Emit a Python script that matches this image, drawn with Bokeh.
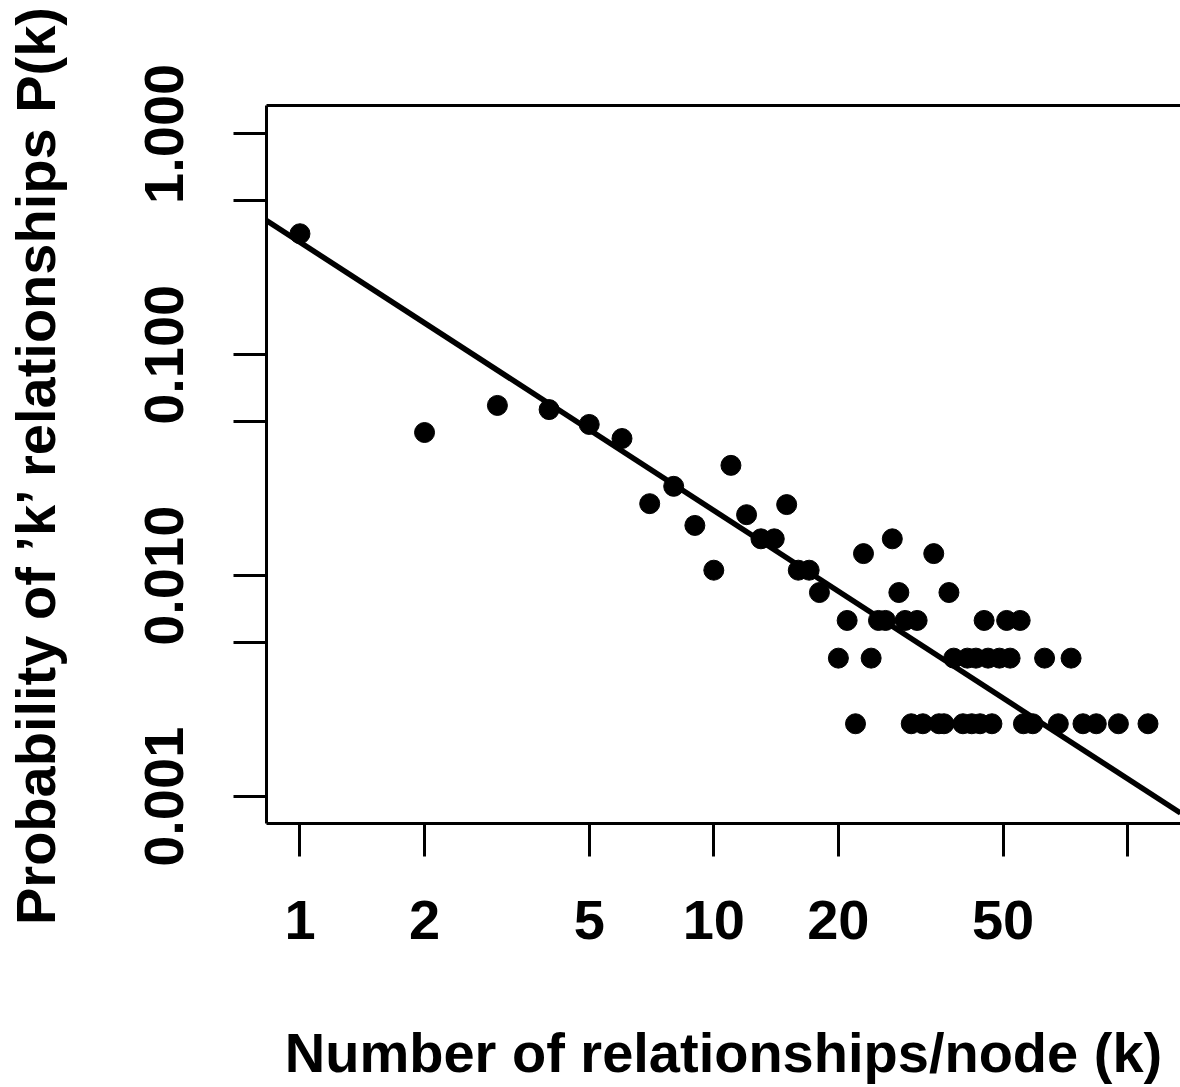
import math
from bokeh.plotting import figure
from bokeh.models import LogAxis, FixedTicker, Range1d
from bokeh.embed import file_html
from bokeh.resources import INLINE

# ---- data (degree k, probability P(k)) ----
degree_k = [1, 2, 3, 4, 5, 6, 7, 8, 9, 10, 11, 12, 13, 14, 15, 16, 17, 18,
            20, 21, 22, 23, 24, 25, 26, 27, 28, 29, 30, 31, 32, 34, 35, 36,
            37, 38, 40, 41, 42, 43, 44, 45, 46, 47, 49, 51, 52, 55, 56, 59,
            63, 68, 73, 78, 84, 95, 112]
prob_k = [0.353, 0.0445, 0.0590, 0.0565, 0.0484, 0.0418, 0.0212, 0.0254,
          0.0169, 0.0106, 0.0316, 0.0189, 0.0147, 0.0147, 0.0210, 0.0106,
          0.0106, 0.0084,
          0.00424, 0.00628, 0.00214, 0.0126, 0.00424, 0.00628, 0.00628,
          0.0147, 0.0084, 0.00628, 0.00214, 0.00628, 0.00214, 0.0126,
          0.00214, 0.00214,
          0.0084, 0.00424, 0.00214, 0.00424, 0.00214, 0.00424, 0.00214,
          0.00628, 0.00424, 0.00214, 0.00424, 0.00628, 0.00424, 0.00628,
          0.00214, 0.00214,
          0.00424, 0.00214, 0.00424, 0.00214, 0.00214, 0.00214, 0.00214]

# power-law fit line P(k) = fit_coef * k ** fit_exponent
fit_coef = 0.3232
fit_exponent = -1.214

x_ticks = [1, 2, 5, 10, 20, 50, 100]
x_tick_labels = ["1", "2", "5", "10", "20", "50", ""]
y_ticks = [0.001, 0.005, 0.01, 0.05, 0.1, 0.5, 1]
y_tick_labels = ["0.001", "", "0.010", "", "0.100", "", "1.000"]

x_title = "Number of relationships/node (k)"
y_title = "Probability of \u2019k\u2019 relationships P(k)"

x_lim = (0.8301, 134.2)
y_lim = (0.000757, 1.343)

FONT = "Liberation Sans"
FSIZE = "56px"

p = figure(x_axis_type="log", y_axis_type="log",
           x_range=Range1d(*x_lim), y_range=Range1d(*y_lim),
           frame_width=914, frame_height=718,
           min_border_left=266, min_border_top=105,
           min_border_right=0, min_border_bottom=0,
           output_backend="svg", toolbar_location=None)
p.outline_line_color = None
p.xgrid.visible = False
p.ygrid.visible = False
p.background_fill_color = "white"
p.border_fill_color = "white"

for ax, ticks, labels in ((p.xaxis[0], x_ticks, x_tick_labels),
                          (p.yaxis[0], y_ticks, y_tick_labels)):
    ax.ticker = FixedTicker(ticks=ticks, minor_ticks=[])
    ax.major_label_overrides = {t: l for t, l in zip(ticks, labels)}
    ax.axis_line_width = 3
    ax.axis_line_color = "black"
    ax.major_tick_line_width = 3
    ax.major_tick_line_color = "black"
    ax.major_tick_out = 33
    ax.major_tick_in = 0
    ax.minor_tick_line_color = None
    ax.major_label_text_font = FONT
    ax.major_label_text_font_style = "bold"
    ax.major_label_text_font_size = FSIZE
    ax.major_label_text_color = "black"
    ax.axis_label_text_font = FONT
    ax.axis_label_text_font_style = "bold"
    ax.axis_label_text_font_size = FSIZE
    ax.axis_label_text_color = "black"

p.xaxis[0].axis_label = x_title
p.yaxis[0].axis_label = y_title
p.xaxis[0].major_label_standoff = 44
p.xaxis[0].axis_label_standoff = 79
p.yaxis[0].major_label_standoff = 50
p.yaxis[0].major_label_orientation = "vertical"
p.yaxis[0].axis_label_standoff = 76

top_axis = LogAxis(ticker=FixedTicker(ticks=[], minor_ticks=[]),
                   axis_line_width=3, axis_line_color="black",
                   major_tick_line_color=None, minor_tick_line_color=None,
                   major_label_text_font_size="0px")
p.add_layout(top_axis, "above")

# fitted line across the plotted range
line_x = list(x_lim)
line_y = [fit_coef * xv ** fit_exponent for xv in line_x]
p.line(line_x, line_y, line_width=5.5, line_color="black")

p.scatter(degree_k, prob_k, size=20, marker="circle",
          fill_color="black", line_color="black")

open("out.html", "w").write(file_html(p, INLINE))
